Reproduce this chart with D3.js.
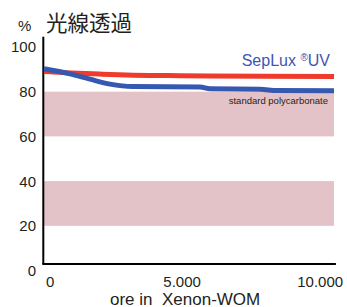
<!DOCTYPE html>
<html>
<head>
<meta charset="utf-8">
<script src="https://cdn.jsdelivr.net/npm/d3@7"></script>
<style>
  html, body { margin: 0; padding: 0; background: #fff; }
  svg { display: block; font-family: "Liberation Sans", Arial, sans-serif; }
  .tick-label { font-size: 15px; fill: #231f20; }
</style>
</head>
<body>
<svg id="chart" width="347" height="307"></svg>
<script>
(function () {
  'use strict';

  // Exposure hours vs. light transmission (%).
  const HOURS_SEPLUX = [0, 1000, 2000, 3000, 4500, 6000, 8000, 10500];
  const VALUES_SEPLUX = [89.0, 88.4, 87.9, 87.5, 87.2, 87.0, 86.9, 86.8];

  const HOURS_PC = [0, 940, 1665, 2390, 3220, 5650, 6010, 7820, 8440, 10500];
  const VALUES_PC = [90.3, 88.0, 85.6, 83.4, 82.3, 82.1, 81.3, 81.1, 80.5, 80.4];

  // Shaded value bands behind the lines.
  const BANDS = [[60, 80], [20, 40]];

  const Y_TICKS = [0, 20, 40, 60, 80, 100];
  const X_TICKS = [0, 5000, 10000];

  const svg = d3.select('#chart');

  const x = d3.scaleLinear().domain([0, 10500]).range([44, 334]);
  const y = d3.scaleLinear().domain([0, 100]).range([270.5, 47]);

  const fmt = d3.formatLocale({ decimal: ',', thousands: '.', grouping: [3], currency: ['', ''] }).format(',d');

  // bands
  svg.append('g').selectAll('rect')
    .data(BANDS)
    .join('rect')
    .attr('x', x(0))
    .attr('width', x(10500) - x(0))
    .attr('y', d => y(d[1]))
    .attr('height', d => y(d[0]) - y(d[1]))
    .attr('fill', '#e3c3c8');

  // axis lines
  svg.append('line')
    .attr('x1', 43.3).attr('x2', 43.3)
    .attr('y1', y(104.6)).attr('y2', y(2.9))
    .attr('stroke', '#000').attr('stroke-width', 2);
  svg.append('line')
    .attr('x1', 42.3).attr('x2', x(10570))
    .attr('y1', y(2.9)).attr('y2', y(2.9))
    .attr('stroke', '#000').attr('stroke-width', 2);

  // y tick labels
  svg.append('g').selectAll('text')
    .data(Y_TICKS)
    .join('text')
    .attr('class', 'tick-label')
    .attr('x', 36)
    .attr('y', d => y(d))
    .attr('dy', '0.36em')
    .attr('text-anchor', 'end')
    .text(d => d);

  // x tick labels
  svg.append('g').selectAll('text')
    .data(X_TICKS)
    .join('text')
    .attr('class', 'tick-label')
    .attr('x', d => d === 0 ? x(d) + 2 : x(d))
    .attr('y', 287)
    .attr('text-anchor', d => d === 0 ? 'start' : 'middle')
    .text(d => fmt(d));

  const line = d3.line()
    .x(d => x(d[0]))
    .y(d => y(d[1]))
    .curve(d3.curveMonotoneX);

  svg.append('path')
    .datum(d3.zip(HOURS_SEPLUX, VALUES_SEPLUX))
    .attr('d', line)
    .attr('fill', 'none')
    .attr('stroke', '#ee3b2c')
    .attr('stroke-width', 5);

  svg.append('path')
    .datum(d3.zip(HOURS_PC, VALUES_PC))
    .attr('d', line)
    .attr('fill', 'none')
    .attr('stroke', '#3558b0')
    .attr('stroke-width', 5);

  // series labels
  const sep = svg.append('text')
    .attr('x', 330).attr('y', 66)
    .attr('text-anchor', 'end')
    .attr('fill', '#3d56b2')
    .style('font-size', '16px');
  sep.append('tspan').text('SepLux ');
  sep.append('tspan').text('®').style('font-size', '10px').attr('dy', -5);
  sep.append('tspan').text('UV').attr('dy', 5);

  svg.append('text')
    .attr('x', 328).attr('y', 104)
    .attr('text-anchor', 'end')
    .attr('fill', '#231f20')
    .style('font-size', '9.5px')
    .text('standard polycarbonate');

  // title: percent sign + Japanese heading on one baseline
  const title = svg.append('text')
    .attr('y', 31)
    .attr('fill', '#231f20');
  title.append('tspan')
    .attr('x', 18)
    .style('font-size', '15px')
    .text('%');
  title.append('tspan')
    .attr('x', 46)
    .style('font-family', '"Noto Sans CJK JP", sans-serif')
    .style('font-size', '21.5px')
    .text('光線透過');

  // x axis title (clipped at the bottom edge as in the source)
  svg.append('text')
    .attr('x', 110).attr('y', 305)
    .attr('fill', '#231f20')
    .style('font-size', '17px')
    .attr('xml:space', 'preserve')
    .text('ore in  Xenon-WOM');
})();
</script>
</body>
</html>
